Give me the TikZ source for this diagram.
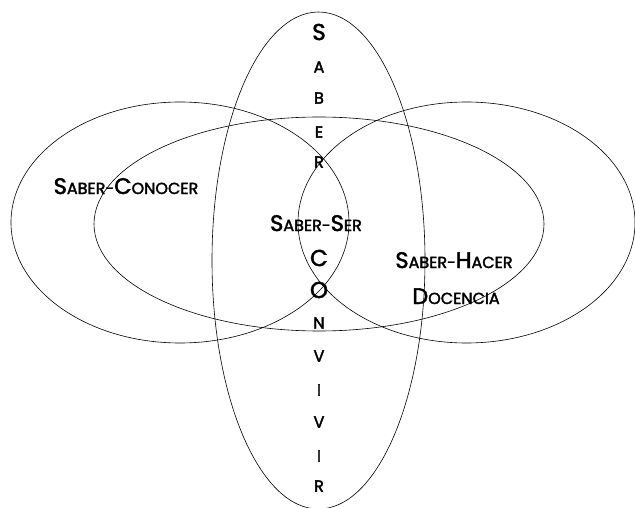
\documentclass[tikz,border=0pt]{standalone}
\usepackage{fontspec}
\setmainfont{Poppins}[FakeBold=2.2]
\newcommand\Bg[1]{{\fontsize{22.5}{24}\selectfont #1}}
\newcommand\Sm[1]{{\fontsize{16}{18}\selectfont #1}}
\tikzset{
  ring/.style={draw=black,line width=0.6pt},
  lbl/.style={inner sep=0pt,anchor=base,font=\fontsize{16}{18}\selectfont},
  vl/.style={inner sep=0pt,anchor=center,font=\fontsize{16}{18}\selectfont},
  vb/.style={inner sep=0pt,anchor=center,font=\fontsize{23}{25}\selectfont},
}
\begin{document}
\begin{tikzpicture}[x=1pt,y=-1pt]
\useasboundingbox (0,0) rectangle (635,508);
\draw[ring] (180,222.5) ellipse [x radius=169,y radius=120.5];
\draw[ring] (466.5,222.5) ellipse [x radius=168.5,y radius=120.5];
\draw[ring] (319,224) ellipse [x radius=225,y radius=107];
\draw[ring] (318.5,260.5) ellipse [x radius=106.5,y radius=248.5];
% vertical letters
\node[vb] (v1) at (319,32) {S};
\node[vl] (v2) at (319,67) {A};
\node[vl] (v3) at (319,98) {B};
\node[vl] (v4) at (319,132) {E};
\node[vl] (v5) at (319,162) {R};
\node[vb] (v6) at (319,258) {C};
\node[vb] (v7) at (319,290) {O};
\node[vl] (v8) at (319,323) {N};
\node[vl] (v9) at (319,356) {V};
\node[vl] (v10) at (319,390) {I};
\node[vl] (v11) at (319,422) {V};
\node[vl] (v12) at (319,456) {I};
\node[vl] (v13) at (319,486) {R};
% labels
\node[lbl] (conocer) at (126,194) {\Bg{S}\Sm{ABER-}\Bg{C}\Sm{ONOCER}};
\node[lbl] (ser) at (316,231) {\Bg{S}\Sm{ABER-}\Bg{S}\Sm{ER}};
\node[lbl] (hacer) at (454,268) {\Bg{S}\Sm{ABER-}\Bg{H}\Sm{ACER}};
\node[lbl] (docencia) at (456,304) {\Bg{D}\Sm{OCENCIA}};
\end{tikzpicture}
\end{document}
